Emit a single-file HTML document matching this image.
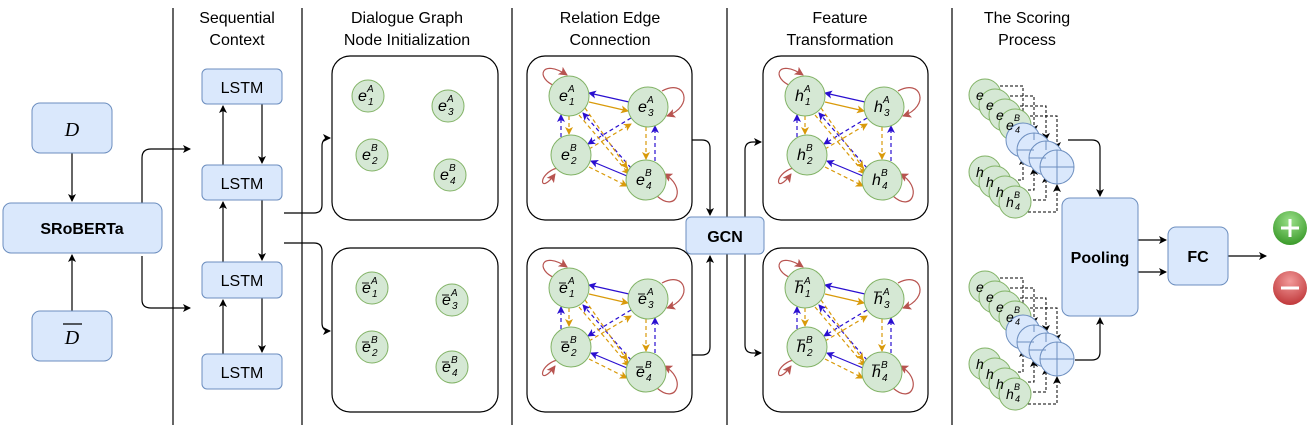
<!DOCTYPE html><html><head><meta charset="utf-8"><style>body{margin:0;background:#fff}svg{display:block}text{font-family:"Liberation Sans",sans-serif}.m{font-family:"Liberation Serif",serif;font-style:italic}</style></head><body>
<svg width="1315" height="432" viewBox="0 0 1315 432" xmlns="http://www.w3.org/2000/svg">
<defs>
<marker id="a" markerWidth="8" markerHeight="8" refX="7" refY="4" orient="auto" markerUnits="userSpaceOnUse"><path d="M0,0L8,4L0,8L2,4z" fill="#000"/></marker>
<marker id="ab" markerWidth="8" markerHeight="8" refX="7" refY="4" orient="auto" markerUnits="userSpaceOnUse"><path d="M0,0L8,4L0,8L2,4z" fill="#2a0fd0"/></marker>
<marker id="ay" markerWidth="8" markerHeight="8" refX="7" refY="4" orient="auto" markerUnits="userSpaceOnUse"><path d="M0,0L8,4L0,8L2,4z" fill="#d99a0a"/></marker>
<marker id="ar" markerWidth="9" markerHeight="9" refX="8" refY="4.5" orient="auto" markerUnits="userSpaceOnUse"><path d="M0,0L9,4.5L0,9L2,4.5z" fill="#b85450"/></marker>
<radialGradient id="gg" cx="0.5" cy="0.3" r="0.7"><stop offset="0" stop-color="#9be08a"/><stop offset="1" stop-color="#3a9a2a"/></radialGradient>
<radialGradient id="rg" cx="0.5" cy="0.3" r="0.7"><stop offset="0" stop-color="#f29a9a"/><stop offset="1" stop-color="#c0393b"/></radialGradient>
<g id="g4">
<path d="M28,30C8,22 14,2 40,19" stroke="#b85450" stroke-width="1.2" fill="none" marker-end="url(#ar)"/>
<path d="M135,35C158,22 168,50 140,60" stroke="#b85450" stroke-width="1.2" fill="none" marker-end="url(#ar)"/>
<path d="M30,112C10,118 12,140 28,118" stroke="#b85450" stroke-width="1.2" fill="none" marker-end="url(#ar)"/>
<path d="M130,140C150,158 160,130 137,118" stroke="#b85450" stroke-width="1.2" fill="none" marker-end="url(#ar)"/>
<g stroke="#2a0fd0" stroke-width="1.2" fill="none" marker-end="url(#ab)">
<line x1="102" y1="46" x2="62" y2="37"/>
<line x1="100" y1="120" x2="64" y2="105"/>
<line x1="34" y1="81" x2="34" y2="59" stroke-dasharray="4,3"/>
<line x1="128" y1="105" x2="128" y2="70" stroke-dasharray="4,3"/>
<line x1="104" y1="62" x2="61" y2="88" stroke-dasharray="4,3"/>
<line x1="104" y1="112" x2="56" y2="57" stroke-dasharray="4,3"/>
</g>
<g stroke="#d99a0a" stroke-width="1.2" fill="none" marker-end="url(#ay)">
<line x1="62" y1="46" x2="101" y2="55"/>
<line x1="62" y1="111" x2="100" y2="130" stroke-dasharray="4,3"/>
<line x1="42" y1="60" x2="42" y2="78" stroke-dasharray="4,3"/>
<line x1="119" y1="71" x2="119" y2="103" stroke-dasharray="4,3"/>
<line x1="62" y1="93" x2="104" y2="68" stroke-dasharray="4,3"/>
<line x1="52" y1="59" x2="102" y2="118" stroke-dasharray="4,3"/>
<line x1="58" y1="52" x2="100" y2="112" stroke-dasharray="4,3"/>
</g>
<g fill="#d5e8d4" stroke="#82b366" stroke-width="1">
<circle cx="42" cy="40" r="20"/><circle cx="121" cy="51" r="20"/><circle cx="44" cy="99" r="20"/><circle cx="119" cy="124" r="20"/>
</g>
</g>
<g id="sc">
<g stroke="#000" stroke-width="1" fill="none" stroke-dasharray="3,2" marker-end="url(#a)">
<path d="M995,86H1023V122"/><path d="M1005,96H1034V132"/><path d="M1015,106H1046V140"/><path d="M1025,116H1057V149"/>
<path d="M998,180H1023V158"/><path d="M1008,190H1034V168"/><path d="M1018,200H1046V176"/><path d="M1028,212H1057V185"/>
</g>
<g fill="#d5e8d4" stroke="#82b366" stroke-width="1">
<circle cx="985" cy="95" r="16"/><circle cx="995" cy="105" r="16"/><circle cx="1005" cy="115" r="16"/><circle cx="1015" cy="125" r="16"/>
</g>
<g fill="#dae8fc" stroke="#6c8ebf" stroke-width="1">
<circle cx="1023" cy="140" r="17"/><circle cx="1034" cy="150" r="17"/><circle cx="1046" cy="158" r="17"/><circle cx="1057" cy="167" r="17"/>
<line x1="1040" y1="167" x2="1074" y2="167"/><line x1="1057" y1="150" x2="1057" y2="184"/>
<line x1="1029" y1="158" x2="1046" y2="158"/><line x1="1046" y1="141" x2="1046" y2="150"/>
<line x1="1017" y1="150" x2="1034" y2="150"/><line x1="1034" y1="133" x2="1034" y2="140"/>
</g>
<g fill="#d5e8d4" stroke="#82b366" stroke-width="1">
<circle cx="985" cy="172" r="16"/><circle cx="995" cy="182" r="16"/><circle cx="1005" cy="192" r="16"/><circle cx="1015" cy="202" r="16"/>
</g>
</g>
</defs>
<g stroke="#000" stroke-width="1.2">
<line x1="173" y1="8" x2="173" y2="425"/><line x1="302" y1="8" x2="302" y2="425"/><line x1="512" y1="8" x2="512" y2="425"/><line x1="727" y1="8" x2="727" y2="425"/><line x1="952" y1="8" x2="952" y2="425"/>
</g>
<g font-size="16" text-anchor="middle" fill="#000">
<text x="237" y="23">Sequential</text><text x="237" y="45">Context</text>
<text x="407" y="23">Dialogue Graph</text><text x="407" y="45">Node Initialization</text>
<text x="610" y="23">Relation Edge</text><text x="610" y="45">Connection</text>
<text x="840" y="23">Feature</text><text x="840" y="45">Transformation</text>
<text x="1027" y="23">The Scoring</text><text x="1027" y="45">Process</text>
</g>
<!-- connectors left -->
<g stroke="#000" stroke-width="1.2" fill="none" marker-end="url(#a)">
<line x1="72" y1="153" x2="72" y2="201"/>
<line x1="72" y1="311" x2="72" y2="255"/>
<path d="M142,203V158Q142,149 151,149H190"/>
<path d="M142,256V300Q142,308 151,308H190"/>
<line x1="223" y1="165" x2="223" y2="106"/><line x1="223" y1="262" x2="223" y2="202"/><line x1="223" y1="354" x2="223" y2="300"/>
<line x1="262" y1="104" x2="262" y2="163"/><line x1="262" y1="200" x2="262" y2="260"/><line x1="262" y1="298" x2="262" y2="352"/>
<path d="M284,213H314Q322,213 322,205V146Q322,138 330,138"/>
<path d="M284,243H314Q322,243 322,251V323Q322,331 330,331"/>
<path d="M692,140H702Q710,140 710,148V215"/>
<path d="M692,355H702Q710,355 710,347V256"/>
<path d="M745,217V150Q745,142 753,142H761"/>
<path d="M745,254V345Q745,353 753,353H761"/>
<path d="M1068,140H1092Q1100,140 1100,148V196"/>
<path d="M1075,360H1092Q1100,360 1100,352V318"/>
<line x1="1138" y1="240" x2="1166" y2="240"/><line x1="1138" y1="272" x2="1166" y2="272"/>
<line x1="1228" y1="256" x2="1266" y2="256"/>
</g>
<g fill="#dae8fc" stroke="#6c8ebf" stroke-width="1">
<rect x="32" y="103" width="80" height="50" rx="8"/>
<rect x="3" y="203" width="159" height="50" rx="8"/>
<rect x="32" y="311" width="80" height="50" rx="8"/>
<rect x="202" y="69" width="80" height="35" rx="5"/>
<rect x="202" y="165" width="80" height="35" rx="5"/>
<rect x="202" y="262" width="80" height="36" rx="5"/>
<rect x="202" y="354" width="80" height="35" rx="5"/>
<rect x="686" y="217" width="78" height="37" rx="5"/>
<rect x="1062" y="198" width="76" height="118" rx="8"/>
<rect x="1168" y="227" width="60" height="58" rx="8"/>
</g>
<g font-size="16" text-anchor="middle">
<text x="72" y="136" class="m" font-size="20">D</text>
<text x="72" y="344" class="m" font-size="20">D</text><line x1="63" y1="324" x2="82" y2="324" stroke="#000" stroke-width="1.2"/>
<text x="82" y="234" font-weight="bold">SRoBERTa</text>
<text x="242" y="93">LSTM</text><text x="242" y="189">LSTM</text><text x="242" y="286">LSTM</text><text x="242" y="378">LSTM</text>
<text x="725" y="242" font-weight="bold">GCN</text>
<text x="1100" y="263" font-weight="bold">Pooling</text>
<text x="1198" y="262" font-weight="bold">FC</text>
</g>
<!-- graph boxes -->
<g fill="none" stroke="#000" stroke-width="1.2">
<rect x="332" y="56" width="166" height="164" rx="18"/><rect x="332" y="248" width="166" height="164" rx="18"/>
<rect x="527" y="56" width="165" height="164" rx="18"/><rect x="527" y="248" width="165" height="164" rx="18"/>
<rect x="763" y="56" width="165" height="164" rx="18"/><rect x="763" y="248" width="165" height="164" rx="18"/>
</g>
<g fill="#d5e8d4" stroke="#82b366" stroke-width="1">
<circle cx="368" cy="96" r="16"/><circle cx="448" cy="106" r="16"/><circle cx="372" cy="155" r="16"/><circle cx="450" cy="175" r="16"/>
<circle cx="372" cy="288" r="16"/><circle cx="452" cy="300" r="16"/><circle cx="372" cy="347" r="16"/><circle cx="452" cy="367" r="16"/>
</g>
<use href="#g4" x="527" y="56"/><use href="#g4" x="527" y="248"/><use href="#g4" x="763" y="56"/><use href="#g4" x="763" y="248"/>
<use href="#sc"/><use href="#sc" y="192"/>
<!-- node labels -->
<g class="m" font-size="16">
<text x="358" y="101">e</text><text x="438" y="111">e</text><text x="362" y="160">e</text><text x="440" y="180">e</text>
<text x="362" y="293">e</text><text x="442" y="305">e</text><text x="362" y="352">e</text><text x="442" y="372">e</text>
<text x="559" y="101">e</text><text x="638" y="112">e</text><text x="561" y="160">e</text><text x="636" y="185">e</text>
<text x="559" y="293">e</text><text x="638" y="304">e</text><text x="561" y="352">e</text><text x="636" y="377">e</text>
<text x="795" y="101">h</text><text x="874" y="112">h</text><text x="797" y="160">h</text><text x="872" y="185">h</text>
<text x="795" y="293">h</text><text x="874" y="304">h</text><text x="797" y="352">h</text><text x="872" y="377">h</text>
</g>
<g class="m" font-size="10">
<text x="367" y="92">A</text><text x="368" y="105">1</text><text x="447" y="102">A</text><text x="448" y="115">3</text><text x="371" y="151">B</text><text x="372" y="164">2</text><text x="449" y="171">B</text><text x="450" y="184">4</text>
<text x="371" y="284">A</text><text x="372" y="297">1</text><text x="451" y="296">A</text><text x="452" y="309">3</text><text x="371" y="343">B</text><text x="372" y="356">2</text><text x="451" y="363">B</text><text x="452" y="376">4</text>
<text x="568" y="92">A</text><text x="569" y="105">1</text><text x="647" y="103">A</text><text x="648" y="116">3</text><text x="570" y="151">B</text><text x="571" y="164">2</text><text x="645" y="176">B</text><text x="646" y="189">4</text>
<text x="568" y="284">A</text><text x="569" y="297">1</text><text x="647" y="295">A</text><text x="648" y="308">3</text><text x="570" y="343">B</text><text x="571" y="356">2</text><text x="645" y="368">B</text><text x="646" y="381">4</text>
<text x="804" y="92">A</text><text x="805" y="105">1</text><text x="883" y="103">A</text><text x="884" y="116">3</text><text x="806" y="151">B</text><text x="807" y="164">2</text><text x="881" y="176">B</text><text x="882" y="189">4</text>
<text x="804" y="284">A</text><text x="805" y="297">1</text><text x="883" y="295">A</text><text x="884" y="308">3</text><text x="806" y="343">B</text><text x="807" y="356">2</text><text x="881" y="368">B</text><text x="882" y="381">4</text>
</g>
<g stroke="#000" stroke-width="0.9">
<line x1="362" y1="283" x2="369" y2="283"/><line x1="442" y1="295" x2="449" y2="295"/><line x1="362" y1="342" x2="369" y2="342"/><line x1="442" y1="362" x2="449" y2="362"/>
<line x1="559" y1="283" x2="566" y2="283"/><line x1="638" y1="294" x2="645" y2="294"/><line x1="561" y1="342" x2="568" y2="342"/><line x1="636" y1="367" x2="643" y2="367"/>
<line x1="795" y1="281" x2="803" y2="281"/><line x1="874" y1="292" x2="882" y2="292"/><line x1="797" y1="340" x2="805" y2="340"/><line x1="872" y1="365" x2="880" y2="365"/>
</g>
<!-- scoring labels -->
<g class="m" font-size="14">
<text x="976" y="100">e</text><text x="986" y="110">e</text><text x="996" y="120">e</text><text x="1006" y="130">e</text>
<text x="976" y="177">h</text><text x="986" y="187">h</text><text x="996" y="197">h</text><text x="1006" y="207">h</text>
<text x="976" y="292">e</text><text x="986" y="302">e</text><text x="996" y="312">e</text><text x="1006" y="322">e</text>
<text x="976" y="369">h</text><text x="986" y="379">h</text><text x="996" y="389">h</text><text x="1006" y="399">h</text>
</g>
<g class="m" font-size="9">
<text x="1014" y="121">B</text><text x="1015" y="133">4</text><text x="1014" y="198">B</text><text x="1015" y="210">4</text>
<text x="1014" y="313">B</text><text x="1015" y="325">4</text><text x="1014" y="390">B</text><text x="1015" y="402">4</text>
</g>
<circle cx="1290" cy="228" r="17" fill="url(#gg)"/><path d="M1281,228H1299M1290,219V237" stroke="#fff" stroke-width="3"/>
<circle cx="1290" cy="288" r="17" fill="url(#rg)"/><path d="M1281,288H1299" stroke="#fff" stroke-width="3"/>
</svg></body></html>
